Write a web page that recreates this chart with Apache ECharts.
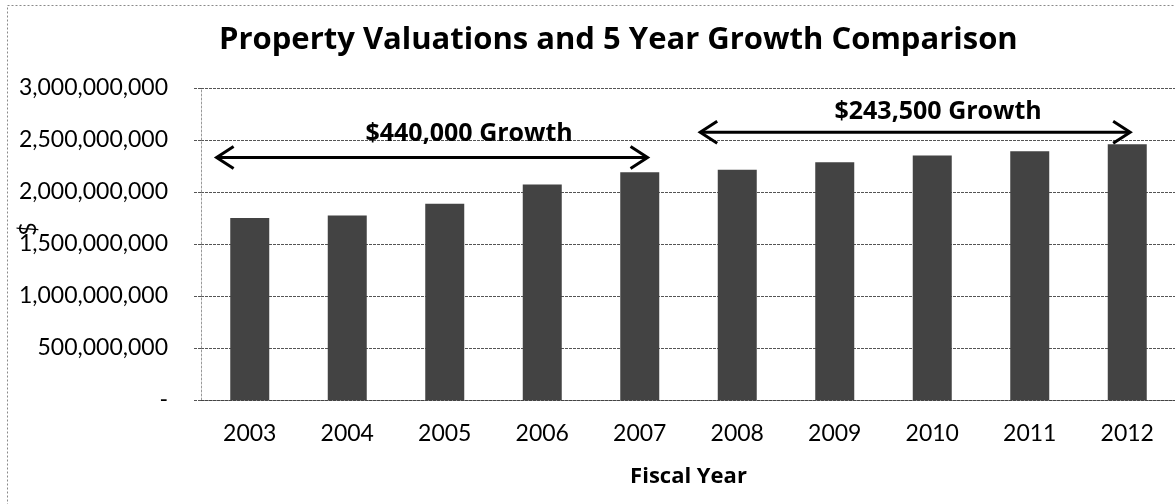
<!DOCTYPE html>
<html>
<head>
<meta charset="utf-8">
<script src="https://cdn.jsdelivr.net/npm/echarts@6/dist/echarts.min.js"></script>
<style>
  html, body { margin: 0; padding: 0; background: #fff; }
  #chart { width: 1175px; height: 504px; }
</style>
</head>
<body>
<div id="chart"></div>
<script>
// Fiscal years and assessed property valuations ($)
const years = ['2003', '2004', '2005', '2006', '2007', '2008', '2009', '2010', '2011', '2012'];
const valuations = [1750e6, 1775e6, 1888e6, 2071e6, 2190e6, 2215e6, 2286e6, 2350e6, 2391e6, 2458.5e6];

// Value-axis tick labels, bottom to top
const yTickLabels = ['-', '500,000,000', '1,000,000,000', '1,500,000,000', '2,000,000,000', '2,500,000,000', '3,000,000,000'];

// Five-year growth spans (positions in category units, levels in $)
const growthLabels = ['$440,000 Growth', '$243,500 Growth'];
const arrowFrom = [-0.34, 4.62];
const arrowTo = [4.08, 9.03];
const arrowLevel = [2331e6, 2574e6];
const labelAt = [2.25, 7.06];
const labelLevel = [2562e6, 2774e6];

const FONT = 'Lato, "Open Sans", sans-serif';
const BOLD_FONT = '"Open Sans", Lato, sans-serif';

const arrowData = growthLabels.map((_, i) => [arrowFrom[i], arrowTo[i], arrowLevel[i], labelAt[i], labelLevel[i]]);

const chart = echarts.init(document.getElementById('chart'), null, { renderer: 'canvas' });

chart.setOption({
  animation: false,
  backgroundColor: '#fff',
  title: {
    text: 'Property Valuations and 5 Year Growth Comparison',
    left: 214,
    top: 20,
    textStyle: { fontFamily: BOLD_FONT, fontSize: 31, fontWeight: 'bold', color: '#000' }
  },
  graphic: [{
    type: 'rect',
    shape: { x: 7.5, y: 5.5, width: 1300, height: 700 },
    style: { fill: null, stroke: '#8a8a8a', lineWidth: 1, lineDash: [2, 2] },
    silent: true
  }, {
    // value-axis title, turned on its side
    type: 'text',
    x: 29,
    y: 229,
    rotation: Math.PI / 2,
    style: {
      text: '$',
      fontFamily: FONT, fontSize: 23, fill: '#000',
      align: 'center', verticalAlign: 'middle'
    },
    silent: true
  }],
  grid: { left: 201, right: -1, top: 88, bottom: 104, outerBoundsMode: 'none', containLabel: false },
  xAxis: [{
    type: 'category',
    data: years,
    name: 'Fiscal Year',
    nameLocation: 'middle',
    nameGap: 66,
    nameTextStyle: { fontFamily: BOLD_FONT, fontSize: 22, fontWeight: 'bold', color: '#000' },
    axisLine: { lineStyle: { color: '#444', width: 1, type: [3, 1] } },
    axisTick: { length: 6, lineStyle: { color: '#888', type: [2, 1] } },
    axisLabel: { fontFamily: FONT, fontSize: 23, color: '#000', margin: 22 }
  }, {
    type: 'value',
    show: false,
    min: -0.5,
    max: 9.5
  }],
  yAxis: {
    type: 'value',
    min: 0,
    max: 3e9,
    interval: 5e8,
    axisLine: { show: true, onZero: false, lineStyle: { color: '#999', width: 1, type: [2, 2] } },
    axisTick: { show: true, length: 8, lineStyle: { color: '#555', type: [3, 1] } },
    axisLabel: {
      fontFamily: FONT, fontSize: 23, color: '#000', margin: 33,
      formatter: (v) => yTickLabels[Math.round(v / 5e8)]
    },
    splitLine: { lineStyle: { color: '#555', width: 1, type: [3, 1] } }
  },
  series: [{
    type: 'bar',
    data: valuations,
    barWidth: 39,
    itemStyle: { color: '#434343' },
    z: 2
  }, {
    type: 'custom',
    xAxisIndex: 1,
    yAxisIndex: 0,
    data: arrowData,
    z: 5,
    renderItem: (params, api) => {
      const a = api.coord([api.value(0), api.value(2)]);
      const b = api.coord([api.value(1), api.value(2)]);
      const t = api.coord([api.value(3), api.value(4)]);
      const hx = 17, hy = 11;
      const stroke = { stroke: '#000', lineWidth: 3, fill: null, lineJoin: 'miter' };
      return {
        type: 'group',
        children: [
          { type: 'line', shape: { x1: a[0] + 1, y1: a[1], x2: b[0] - 1, y2: b[1] }, style: stroke },
          { type: 'polyline', shape: { points: [[a[0] + hx, a[1] - hy], [a[0], a[1]], [a[0] + hx, a[1] + hy]] }, style: stroke },
          { type: 'polyline', shape: { points: [[b[0] - hx, b[1] - hy], [b[0], b[1]], [b[0] - hx, b[1] + hy]] }, style: stroke },
          {
            type: 'text', x: t[0], y: t[1],
            style: {
              text: growthLabels[params.dataIndex],
              fontFamily: BOLD_FONT, fontSize: 25, fontWeight: 'bold',
              fill: '#000', align: 'center', verticalAlign: 'middle'
            }
          }
        ]
      };
    }
  }]
});
</script>
</body>
</html>
